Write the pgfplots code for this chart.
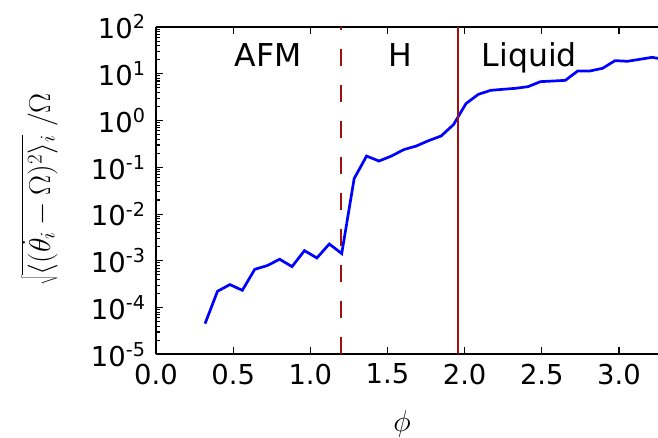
\RequirePackage{fix-cm}
\documentclass[border=0pt]{standalone}
\usepackage{pgfplots}
\pgfplotsset{compat=1.18}
\usepackage{fontspec}
\setmainfont{DejaVu Sans}
\definecolor{vline}{rgb}{0.63,0.06,0.06}
\begin{document}
\begin{tikzpicture}
\begin{axis}[
  scale only axis, width=502pt, height=327.3pt,
  ymode=log, xmin=0, xmax=3.253, ymin=1e-5, ymax=1e2,
  axis x line=box, axis y line=left,
  axis line style={-, line width=1.8pt, black},
  tick align=inside,
  major tick length=7pt, minor tick length=4pt,
  tick style={line width=1.1pt, black},
  xtick={0,0.5,1.0,1.5,2.0,2.5,3.0},
  /pgf/number format/fixed, /pgf/number format/fixed zerofill,
  /pgf/number format/precision=1, /pgf/number format/assume math mode=true,
  ytick={1e-5,1e-4,1e-3,1e-2,1e-1,1,10,100},
  yticklabels={10\textsuperscript{-5},10\textsuperscript{-4},10\textsuperscript{-3},10\textsuperscript{-2},10\textsuperscript{-1},10\textsuperscript{0},10\textsuperscript{1},10\textsuperscript{2}},
  minor ytick={2e-5,3e-5,4e-5,5e-5,6e-5,7e-5,8e-5,9e-5,
               2e-4,3e-4,4e-4,5e-4,6e-4,7e-4,8e-4,9e-4,
               2e-3,3e-3,4e-3,5e-3,6e-3,7e-3,8e-3,9e-3,
               2e-2,3e-2,4e-2,5e-2,6e-2,7e-2,8e-2,9e-2,
               0.2,0.3,0.4,0.5,0.6,0.7,0.8,0.9,
               2,3,4,5,6,7,8,9,
               20,30,40,50,60,70,80,90},
  tick label style={font=\fontsize{27.4}{30}\selectfont},
  xticklabel style={yshift=-6pt},
  yticklabel style={xshift=-7pt},
  xlabel={$\phi$},
  ylabel={$\sqrt{\langle(\dot{\theta}_i-\Omega)^2\rangle_i}\;/\Omega$},
  every axis x label/.style={at={(rel axis cs:0.49,-0.2123)}, anchor=center, font=\fontsize{30}{32}\selectfont},
  every axis y label/.style={at={(rel axis cs:-0.232,0.504)}, anchor=center, rotate=90, font=\fontsize{30}{32}\selectfont},
  clip=true,
]
\addplot[blue, line width=2.7pt] coordinates {
(0.318,4.54e-5) (0.3985,2.23e-4) (0.479,3.10e-4) (0.5595,2.34e-4)
(0.640,6.58e-4) (0.7205,7.89e-4) (0.801,1.08e-3) (0.8815,7.52e-4)
(0.962,1.65e-3) (1.0425,1.15e-3) (1.123,2.29e-3) (1.2035,1.43e-3)
(1.284,5.73e-2) (1.3645,0.174) (1.445,0.136) (1.5255,0.174)
(1.606,0.239) (1.6865,0.285) (1.767,0.372) (1.8475,0.467)
(1.928,0.818) (2.0085,2.30) (2.089,3.64) (2.1695,4.43)
(2.250,4.66) (2.3305,4.89) (2.411,5.31) (2.4915,6.79)
(2.572,7.00) (2.6525,7.24) (2.733,11.5) (2.8135,11.5)
(2.894,13.1) (2.9745,19.1) (3.055,18.5) (3.1355,20.4)
(3.216,22.5) (3.2965,20.0)
};
\addplot[vline, line width=2pt, dash pattern=on 17pt off 19pt] coordinates {(1.199,1e-5) (1.199,1e2)};
\addplot[vline, line width=2pt] coordinates {(1.959,1e-5) (1.959,1e2)};
\node[anchor=base, font=\fontsize{31.5}{34}\selectfont] at (axis cs:0.727,14.4) {AFM};
\node[anchor=base, font=\fontsize{31.5}{34}\selectfont] at (axis cs:1.585,14.4) {H};
\node[anchor=base, font=\fontsize{31.5}{34}\selectfont] at (axis cs:2.42,14.4) {Liquid};
\coordinate (bbl) at (rel axis cs:-0.31076,-0.25382);
\coordinate (btr) at (rel axis cs:1,1.08257);
\end{axis}
\pgfresetboundingbox
\useasboundingbox (bbl) rectangle (btr);
\end{tikzpicture}
\end{document}
